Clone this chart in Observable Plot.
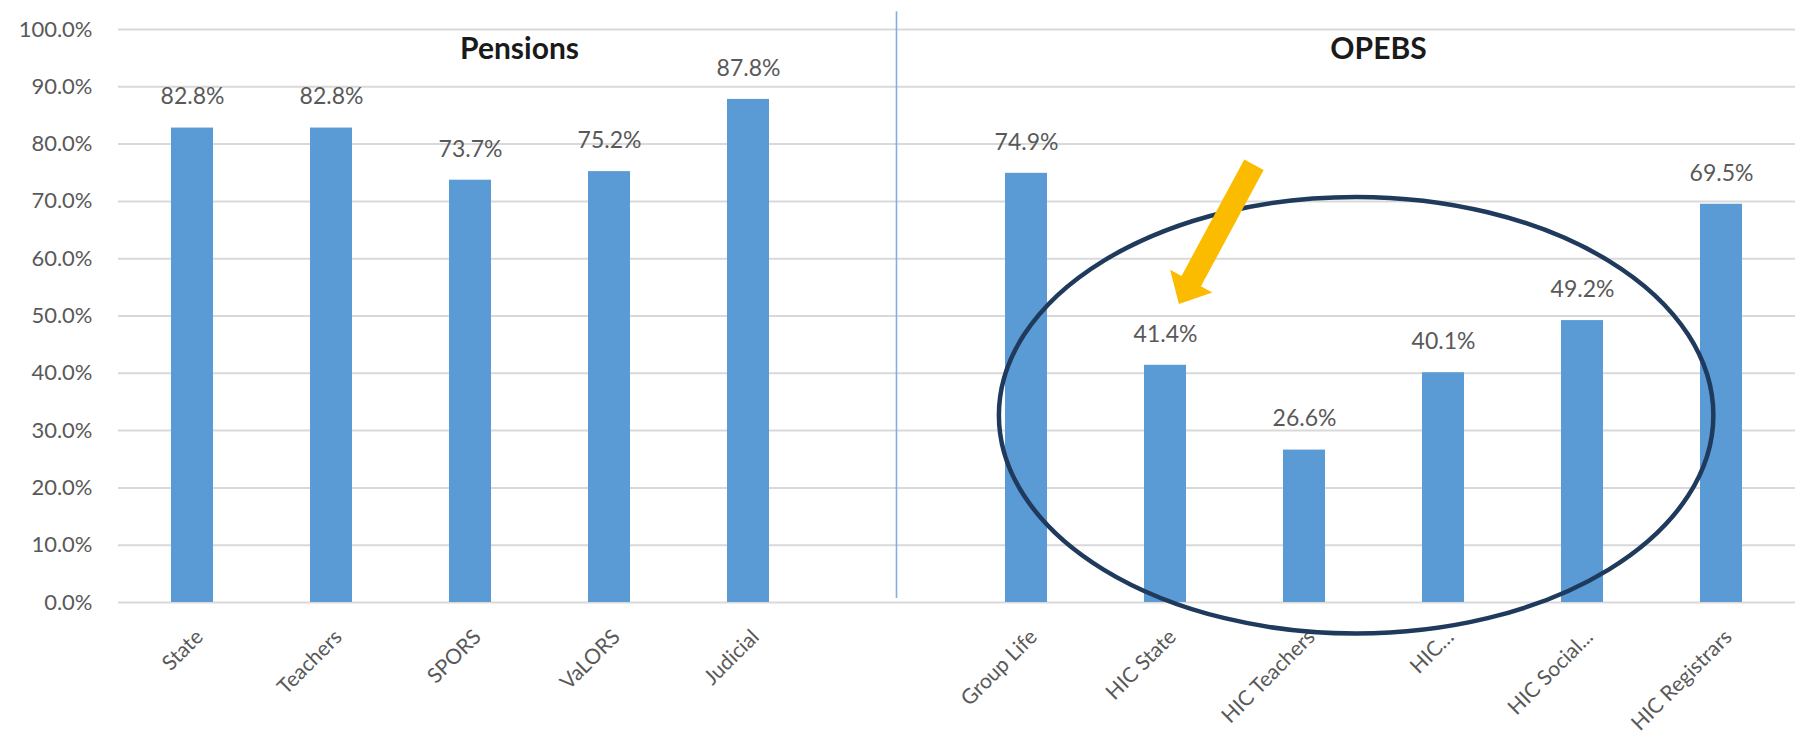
<!DOCTYPE html>
<html>
<head>
<meta charset="utf-8">
<script src="https://cdn.jsdelivr.net/npm/d3@7"></script>
<script src="https://cdn.jsdelivr.net/npm/@observablehq/plot@0.6"></script>
<style>
  html, body { margin: 0; padding: 0; background: #fff; }
  #chart svg { display: block; }
</style>
</head>
<body>
<div id="chart"></div>
<script>
// ---- data ----
const pensionNames = ["State", "Teachers", "SPORS", "VaLORS", "Judicial"];
const pensionValues = [82.8, 82.8, 73.7, 75.2, 87.8];
const gapName = " ";
const opebNames = ["Group Life", "HIC State", "HIC Teachers", "HIC\u2026", "HIC Social...", "HIC Registrars"];
const opebValues = [74.9, 41.4, 26.6, 40.1, 49.2, 69.5];
const yTicks = [0, 10, 20, 30, 40, 50, 60, 70, 80, 90, 100];
const groupTitles = ["Pensions", "OPEBS"];
const groupAnchors = ["SPORS", "HIC Teachers"];

// annotations (in data units / band steps)
const ellipseSpec = {cat: "HIC Teachers", offsetSteps: 0.375, yCenter: 32.6, radiusSteps: 2.57, yRadius: 38.1};
const arrowSpec = {cat: "HIC State", tipSteps: 0.10, tipY: 52.0, tailSteps: 0.64, tailY: 76.3};

const categories = [...pensionNames, gapName, ...opebNames];
const data = [
  ...pensionNames.map((name, i) => ({name, value: pensionValues[i]})),
  ...opebNames.map((name, i) => ({name, value: opebValues[i]}))
];

const grey = "#595959";
const titleStyle = {y: () => 96.6, text: d => d, fontSize: 30, fontWeight: "bold", fill: "#1a1a1a", lineAnchor: "middle"};
const chart = Plot.plot({
  width: 1799,
  height: 739,
  marginLeft: 118,
  marginRight: 4,
  marginTop: 29,
  marginBottom: 137,
  style: {fontFamily: "Lato, 'Open Sans', sans-serif", background: "#fff", overflow: "visible"},
  x: {domain: categories, paddingInner: 0.7, paddingOuter: 0.35, axis: null},
  y: {domain: [0, 100], axis: null},
  marks: [
    Plot.gridY(yTicks, {stroke: "#d9d9d9", strokeOpacity: 1, strokeWidth: 2}),
    Plot.axisY(yTicks, {label: null, tickSize: 0, tickPadding: 26, tickFormat: d => d.toFixed(1) + "%", fontSize: 22, fill: grey}),
    Plot.ruleX([gapName], {x: d => d, y1: 0.7, y2: 103.1, dx: 9, stroke: "#7fb0e0", strokeWidth: 1.6}),
    Plot.barY(data, {x: "name", y: "value", fill: "#5b9bd5"}),
    Plot.text(data, {x: "name", y: "value", text: d => d.value.toFixed(1) + "%", dy: -31, lineAnchor: "middle", fontSize: 23, fill: grey}),
    Plot.text(categories.filter(c => c !== gapName), {x: d => d, y: 0, dx: 7, dy: 31, rotate: -45, textAnchor: "end", lineAnchor: "middle", fontSize: 21, fill: grey}),
    Plot.text([groupTitles[0]], {...titleStyle, x: () => groupAnchors[0], dx: 49}),
    Plot.text([groupTitles[1]], {...titleStyle, x: () => groupAnchors[1], dx: 74})
  ]
});
document.getElementById("chart").appendChild(chart);

// annotations drawn through the plot's scales
const sx = chart.scale("x"), sy = chart.scale("y");
const center = c => sx.apply(c) + sx.bandwidth / 2;
const step = sx.step;
const svg = d3.select(chart);
const ann = svg.append("g");
ann.append("ellipse")
  .attr("cx", center(ellipseSpec.cat) + ellipseSpec.offsetSteps * step)
  .attr("cy", sy.apply(ellipseSpec.yCenter))
  .attr("rx", ellipseSpec.radiusSteps * step)
  .attr("ry", sy.apply(0) - sy.apply(ellipseSpec.yRadius))
  .attr("fill", "none")
  .attr("stroke", "#1f3a5c")
  .attr("stroke-width", 4.5);

const tip = [center(arrowSpec.cat) + arrowSpec.tipSteps * step, sy.apply(arrowSpec.tipY)];
const tail = [center(arrowSpec.cat) + arrowSpec.tailSteps * step, sy.apply(arrowSpec.tailY)];
const len = Math.hypot(tip[0] - tail[0], tip[1] - tail[1]);
const u = [(tip[0] - tail[0]) / len, (tip[1] - tail[1]) / len];
const n = [-u[1], u[0]];
const shaftHalf = 11, headHalf = 24, headLen = 26;
const neck = [tip[0] - u[0] * headLen, tip[1] - u[1] * headLen];
const p = (b, k) => [b[0] + n[0] * k, b[1] + n[1] * k];
const pts = [p(tail, shaftHalf), p(neck, shaftHalf), p(neck, headHalf), tip, p(neck, -headHalf), p(neck, -shaftHalf), p(tail, -shaftHalf)];
ann.append("polygon")
  .attr("points", pts.map(q => q.join(",")).join(" "))
  .attr("fill", "#fbbc00");
</script>
</body>
</html>
